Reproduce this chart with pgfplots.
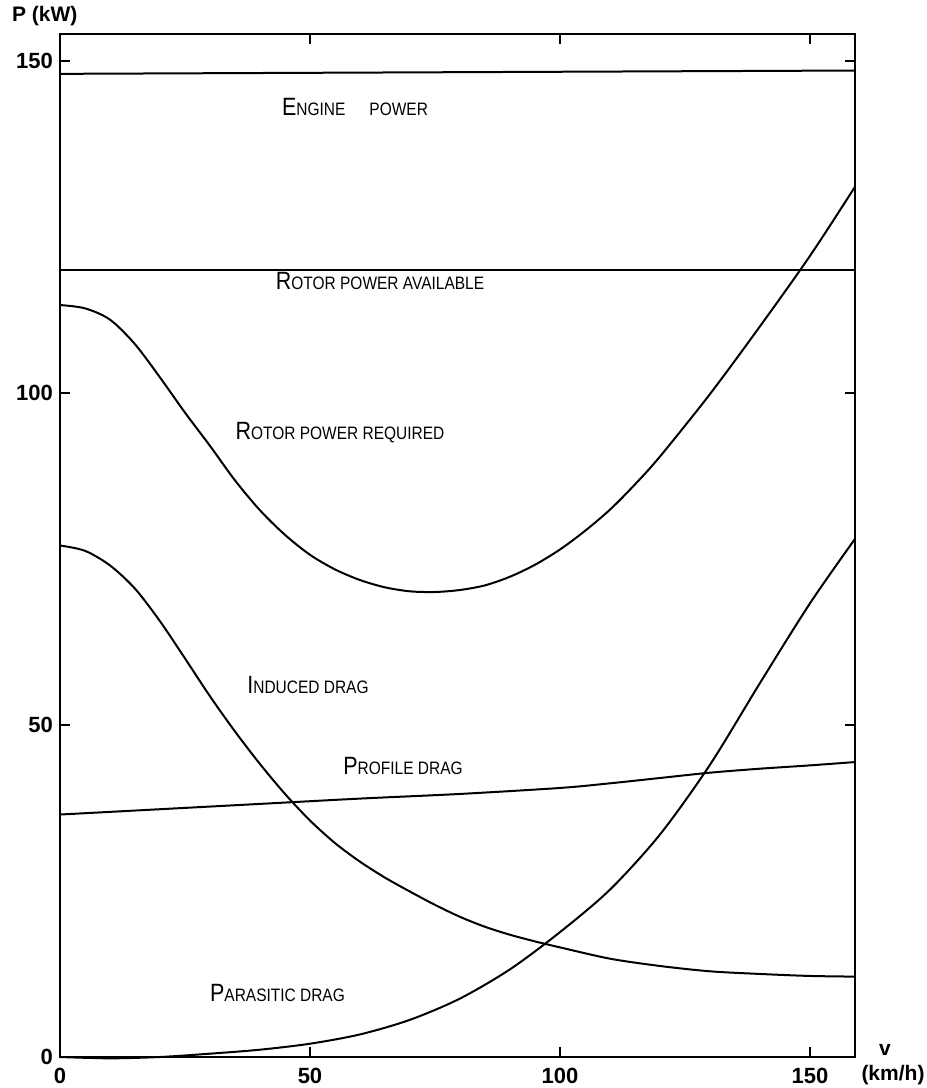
\documentclass[border=0pt]{standalone}
\usepackage{graphicx}
\usepackage{pgfplots}
\pgfplotsset{compat=1.18}
\usepackage{fontspec}
\setmainfont{Liberation Sans}
\newcommand{\fsc}[2]{\scalebox{0.86}[1]{{\fontsize{12.5}{12.5}\selectfont #1}{\fontsize{9}{9}\selectfont #2}}}
\pgfplotsset{curve/.style={black, solid, line width=1pt, no markers, smooth}}
\begin{document}
\begin{tikzpicture}
\useasboundingbox (-30pt,-15.5pt) rectangle (433.5pt,528.5pt);
\begin{axis}[
  scale only axis,
  width=397.5pt, height=511.5pt,
  xmin=0, xmax=159, ymin=0, ymax=154,
  xtick={0,50,100,150}, ytick={0,50,100,150},
  tick align=inside, major tick length=5pt,
  tick style={line width=1pt,black},
  axis line style={line width=1.2pt},
  /pgf/number format/assume math mode=true,
  ticklabel style={font=\fontsize{11}{11}\selectfont\bfseries},
  xticklabel style={yshift=-2pt},
  clip=false,
]
% engine power
\addplot[curve] coordinates {(0,148) (159,148.5)};
% rotor power available
\addplot[curve] coordinates {(0,118.5) (159,118.5)};
% rotor power required
\addplot[curve] coordinates {(0,113.2) (5,112.7) (10,111) (15,107.3) (20,102.3) (25,97) (30,92) (35,86.8) (40,82.3) (45,78.6) (50,75.6) (55,73.4) (60,71.8) (65,70.7) (70,70.1) (75,70.0) (80,70.3) (85,71.0) (90,72.3) (95,74.1) (100,76.4) (105,79.2) (110,82.4) (115,86.2) (120,90.4) (130,99.8) (140,110) (150,120.6) (159,131)};
% induced drag
\addplot[curve] coordinates {(0,77) (5,76.2) (10,74) (15,70.5) (20,65.6) (25,60) (30,54.3) (35,49.0) (40,44.1) (45,39.6) (50,35.6) (55,32.2) (60,29.4) (65,27.0) (70,24.9) (75,22.9) (80,21.1) (85,19.6) (90,18.4) (95,17.4) (100,16.5) (110,14.8) (120,13.7) (130,12.9) (140,12.5) (150,12.2) (159,12.1)};
% profile drag
\addplot[curve] coordinates {(0,36.5) (20,37.3) (40,38.1) (60,38.9) (80,39.6) (100,40.5) (110,41.2) (120,42.0) (130,42.8) (140,43.4) (150,43.9) (159,44.4)};
% parasitic drag
\addplot[curve] coordinates {(0,0) (10,-0.2) (20,0) (30,0.5) (40,1.1) (50,2.0) (60,3.4) (70,5.6) (80,8.8) (90,13.2) (100,18.8) (110,25.2) (120,33.5) (130,44) (140,56.3) (150,68.3) (159,78)};
\node at (axis cs:59,143) {\fsc{E}{NGINE}\hspace{1.2em}\fsc{}{POWER}};
\node at (axis cs:64,116.8) {\fsc{R}{OTOR POWER AVAILABLE}};
\node at (axis cs:56,94) {\fsc{R}{OTOR POWER REQUIRED}};
\node at (axis cs:49.6,56) {\fsc{I}{NDUCED DRAG}};
\node at (axis cs:68.6,43.8) {\fsc{P}{ROFILE DRAG}};
\node at (axis cs:43.5,9.7) {\fsc{P}{ARASITIC DRAG}};
\node[anchor=west,font=\fontsize{10.5}{10.5}\selectfont\bfseries] at ([xshift=-27.5pt,yshift=9pt]rel axis cs:0,1) {P (kW)};
\node[font=\fontsize{10.5}{10.5}\selectfont\bfseries] at ([xshift=15pt,yshift=3.5pt]rel axis cs:1,0) {v};
\node[font=\fontsize{10.5}{10.5}\selectfont\bfseries] at ([xshift=19pt,yshift=-9pt]rel axis cs:1,0) {(km/h)};
\end{axis}
\end{tikzpicture}
\end{document}
